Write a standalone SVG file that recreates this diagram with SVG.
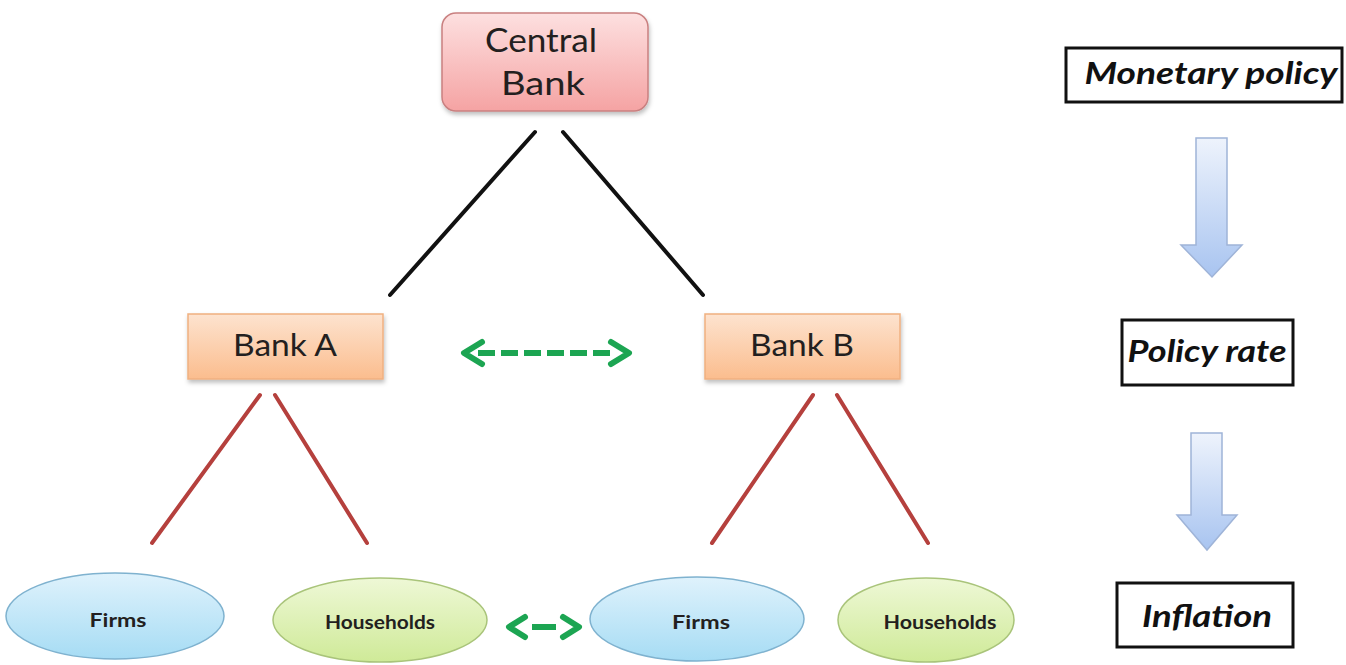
<svg xmlns="http://www.w3.org/2000/svg" width="1346" height="665" viewBox="0 0 1346 665">
<defs>
<linearGradient id="gPink" x1="0" y1="0" x2="0" y2="1"><stop offset="0" stop-color="#fde0e0"/><stop offset="1" stop-color="#f5a3a3"/></linearGradient>
<linearGradient id="gOrange" x1="0" y1="0" x2="0" y2="1"><stop offset="0" stop-color="#fde3cf"/><stop offset="1" stop-color="#fbbd8e"/></linearGradient>
<linearGradient id="gBlue" x1="0" y1="0" x2="0" y2="1"><stop offset="0" stop-color="#dff2fc"/><stop offset="1" stop-color="#a6dcf4"/></linearGradient>
<linearGradient id="gGreen" x1="0" y1="0" x2="0" y2="1"><stop offset="0" stop-color="#eef8d6"/><stop offset="1" stop-color="#cfea98"/></linearGradient>
<linearGradient id="gArrow" x1="0" y1="0" x2="0" y2="1"><stop offset="0" stop-color="#eef3fc"/><stop offset="1" stop-color="#a8c4f0"/></linearGradient>
<filter id="sh" x="-10%" y="-10%" width="120%" height="130%"><feDropShadow dx="1" dy="3" stdDeviation="2" flood-color="#000" flood-opacity="0.25"/></filter>
</defs>
<style>
.lbl{font-family:Lato,"Liberation Sans",sans-serif;fill:#231f20;text-anchor:middle}
.big{font-size:32px}
.mid{font-size:30px}
.sm{font-size:18px;font-weight:bold}
.side{font-family:Lato,"Liberation Sans",sans-serif;font-weight:bold;font-style:italic;fill:#111;text-anchor:middle}
.sbox{fill:#fff;stroke:#111;stroke-width:3}
.blk{stroke:#111;stroke-width:4;stroke-linecap:round}
.red{stroke:#b5403d;stroke-width:4;stroke-linecap:round}
.grn{stroke:#1ca552;stroke-width:6;fill:none}
.barrow{fill:url(#gArrow);stroke:#9fb4d8;stroke-width:1.5}
</style>
<g id="connectors">
<line class="blk" x1="535" y1="132" x2="390" y2="295"/>
<line class="blk" x1="563" y1="132" x2="703" y2="295"/>
<line class="red" x1="260" y1="395" x2="152" y2="543"/>
<line class="red" x1="275" y1="395" x2="367" y2="543"/>
<line class="red" x1="813" y1="395" x2="712" y2="543"/>
<line class="red" x1="837" y1="395" x2="928" y2="543"/>
<g id="bank-link">
<line class="grn" x1="478" y1="353" x2="616" y2="353" stroke-dasharray="17,6"/>
<polyline class="grn" points="482,342 464,353 482,364" stroke-linecap="round" stroke-linejoin="round"/>
<polyline class="grn" points="611,342 629,353 611,364" stroke-linecap="round" stroke-linejoin="round"/>
</g>
<g id="firm-link">
<line class="grn" x1="532" y1="627" x2="556" y2="627"/>
<polyline class="grn" points="525,617 509,627 525,637" stroke-linecap="round" stroke-linejoin="round"/>
<polyline class="grn" points="563,617 579,627 563,637" stroke-linecap="round" stroke-linejoin="round"/>
</g>
</g>
<g id="central-bank">
<rect x="442" y="13" width="206" height="98" rx="14" fill="url(#gPink)" stroke="#c98080" stroke-width="1.5" filter="url(#sh)"/>
<text class="lbl big" x="541" y="52" textLength="112" lengthAdjust="spacingAndGlyphs">Central</text>
<text class="lbl big" x="543" y="95" textLength="84" lengthAdjust="spacingAndGlyphs">Bank</text>
</g>
<g id="bank-a">
<rect x="188" y="314" width="195" height="65" fill="url(#gOrange)" stroke="#f0b080" stroke-width="1.5" filter="url(#sh)"/>
<text class="lbl mid" x="285" y="356" textLength="104" lengthAdjust="spacingAndGlyphs">Bank A</text>
</g>
<g id="bank-b">
<rect x="705" y="314" width="195" height="65" fill="url(#gOrange)" stroke="#f0b080" stroke-width="1.5" filter="url(#sh)"/>
<text class="lbl mid" x="802" y="356" textLength="104" lengthAdjust="spacingAndGlyphs">Bank B</text>
</g>
<g id="firms-a">
<ellipse cx="115" cy="616" rx="109" ry="43" fill="url(#gBlue)" stroke="#7fb2cf" stroke-width="1.5"/>
<text class="lbl sm" x="118" y="627" textLength="57" lengthAdjust="spacingAndGlyphs">Firms</text>
</g>
<g id="households-a">
<ellipse cx="380" cy="620" rx="107" ry="42" fill="url(#gGreen)" stroke="#a9c47a" stroke-width="1.5"/>
<text class="lbl sm" x="380" y="629" textLength="110" lengthAdjust="spacingAndGlyphs">Households</text>
</g>
<g id="firms-b">
<ellipse cx="697" cy="619" rx="107" ry="42" fill="url(#gBlue)" stroke="#7fb2cf" stroke-width="1.5"/>
<text class="lbl sm" x="701" y="629" textLength="58" lengthAdjust="spacingAndGlyphs">Firms</text>
</g>
<g id="households-b">
<ellipse cx="926" cy="620" rx="88" ry="42" fill="url(#gGreen)" stroke="#a9c47a" stroke-width="1.5"/>
<text class="lbl sm" x="940" y="629" textLength="113" lengthAdjust="spacingAndGlyphs">Households</text>
</g>
<g id="monetary-policy">
<rect class="sbox" x="1066" y="48" width="276" height="54"/>
<text class="side" x="1211" y="84" font-size="31" textLength="253" lengthAdjust="spacingAndGlyphs">Monetary policy</text>
</g>
<g id="arrow-1">
<path class="barrow" d="M1196,138 H1227 V245 H1242 L1212,277 L1181,245 H1196 Z"/>
</g>
<g id="policy-rate">
<rect class="sbox" x="1122" y="320" width="171" height="65"/>
<text class="side" x="1207" y="362" font-size="30" textLength="159" lengthAdjust="spacingAndGlyphs">Policy rate</text>
</g>
<g id="arrow-2">
<path class="barrow" d="M1191,433 H1222 V515 H1237 L1207,550 L1177,515 H1191 Z"/>
</g>
<g id="inflation">
<rect class="sbox" x="1117" y="583" width="176" height="64"/>
<text class="side" x="1207" y="627" font-size="30" textLength="130" lengthAdjust="spacingAndGlyphs">Inflation</text>
</g>
</svg>
